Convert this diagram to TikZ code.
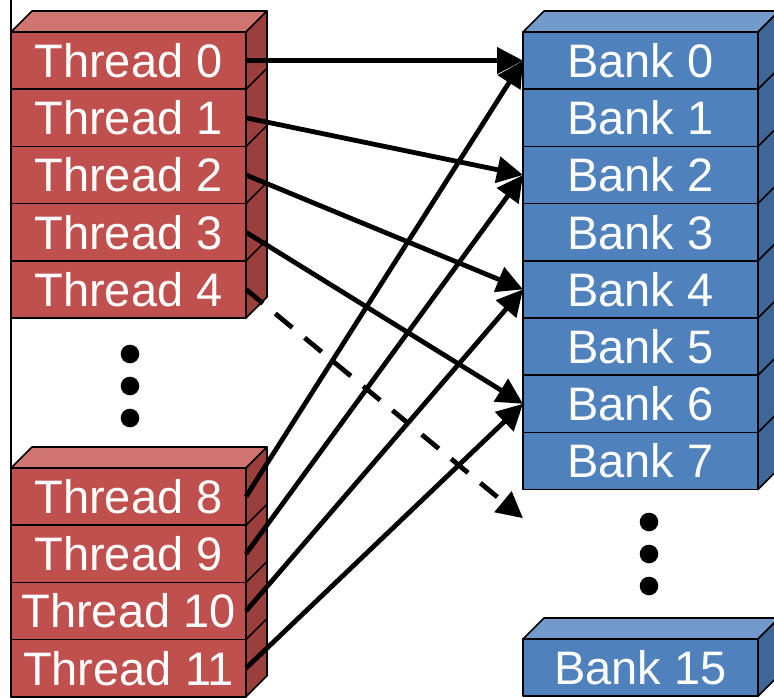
\documentclass[tikz,border=0pt]{standalone}
\usepackage{fontspec}
\setmainfont{Liberation Sans}
\usetikzlibrary{arrows.meta}
\definecolor{redfront}{HTML}{C0504D}
\definecolor{redtop}{HTML}{CF7471}
\definecolor{redside}{HTML}{9B3F3D}
\definecolor{bluefront}{HTML}{4F81BD}
\definecolor{bluetop}{HTML}{729BCB}
\definecolor{blueside}{HTML}{3E6696}
\begin{document}
\begin{tikzpicture}[x=1pt,y=-1pt,
  face/.style={draw=black, line width=1.6pt, line join=round},
  front/.style={face, minimum width=235pt, minimum height=57.2pt, inner sep=0pt, outer sep=0pt,
    text=white, font=\fontsize{47}{47}\selectfont},
  thread/.style={front, fill=redfront},
  bank/.style={front, fill=bluefront},
  dot/.style={circle, fill=black, minimum size=18.6pt, inner sep=0pt},
  link/.style={line width=4.8pt, -{Triangle[length=26pt,width=26pt]}},
  dashlink/.style={link, dash pattern=on 22pt off 16pt}]
\useasboundingbox (0,0) rectangle (774,697);
\clip (0,0) rectangle (774,697);
\fill[white] (0,0) rectangle (774,697);

% left border line
\draw[face] (11,0) -- (11,697);

% thread stacks
\node[thread] (t0) at (128.5,60.6) {Thread 0};
\node[thread] (t1) at (128.5,117.8) {Thread 1};
\node[thread] (t2) at (128.5,175.0) {Thread 2};
\node[thread] (t3) at (128.5,232.2) {Thread 3};
\node[thread] (t4) at (128.5,289.4) {Thread 4};

\node[thread] (t8) at (128.5,496.6) {Thread 8};
\node[thread] (t9) at (128.5,553.8) {Thread 9};
\node[thread] (t10) at (128.5,611.0) {Thread 10};
\node[thread] (t11) at (128.5,668.2) {Thread 11};

% bank stacks
\node[bank] (b0) at (640.5,60.6) {Bank 0};
\node[bank] (b1) at (640.5,117.8) {Bank 1};
\node[bank] (b2) at (640.5,175.0) {Bank 2};
\node[bank] (b3) at (640.5,232.2) {Bank 3};
\node[bank] (b4) at (640.5,289.4) {Bank 4};
\node[bank] (b5) at (640.5,346.6) {Bank 5};
\node[bank] (b6) at (640.5,403.8) {Bank 6};
\node[bank] (b7) at (640.5,461.0) {Bank 7};

\node[bank] (b15) at (640.5,667.6) {Bank 15};

% 3D faces
\foreach \a/\b/\tp/\sd in {t0/t4/redtop/redside, t8/t11/redtop/redside, b0/b7/bluetop/blueside, b15/b15/bluetop/blueside}{
  \draw[face, fill=\tp] (\a.north west) -- ++(21,-21) -- ([shift={(21,-21)}]\a.north east) -- (\a.north east) -- cycle;
  \draw[face, fill=\sd] (\a.north east) -- ++(21,-21) -- ([shift={(21,-21)}]\b.south east) -- (\b.south east) -- cycle;
}
\foreach \n in {t1,t2,t3,t4,t9,t10,t11,b1,b2,b3,b4,b5,b6,b7}{
  \draw[face] (\n.north east) -- ++(21,-21);
}

% dots
\node[dot] (dl1) at (130,354) {};
\node[dot] (dl2) at (130,386) {};
\node[dot] (dl3) at (130,418) {};
\node[dot] (dr1) at (649,522) {};
\node[dot] (dr2) at (649,554) {};
\node[dot] (dr3) at (649,586) {};

% free end of dashed arrow (bank 8 position)
\coordinate (b8) at ([yshift=-28.6pt]b7.south west);

% connectors
\draw[link] (t0.east) -- (b0.west);
\draw[link] (t1.east) -- (b2.west);
\draw[link] (t2.east) -- (b4.west);
\draw[link] (t3.east) -- (b6.west);
\draw[dashlink] (t4.east) -- (b8);
\draw[link] (t8.east) -- (b0.west);
\draw[link] (t9.east) -- (b2.west);
\draw[link] (t10.east) -- (b4.west);
\draw[link] (t11.east) -- (b6.west);
\end{tikzpicture}
\end{document}
